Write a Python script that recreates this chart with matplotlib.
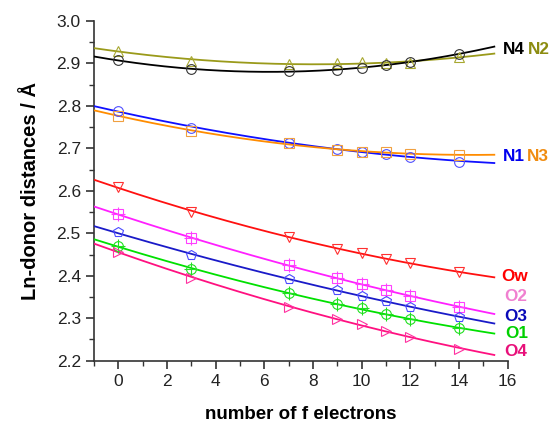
import numpy as np
import matplotlib.pyplot as plt
from matplotlib.ticker import MultipleLocator

# number of f electrons for each lanthanide
n_f = np.array([0, 3, 7, 9, 10, 11, 12, 14])

# Ln-donor distances (Angstrom)
N2 = [2.930, 2.906, 2.899, 2.900, 2.903, 2.902, 2.901, 2.915]
N4 = [2.907, 2.887, 2.882, 2.885, 2.890, 2.896, 2.903, 2.923]
N1 = [2.788, 2.749, 2.713, 2.698, 2.692, 2.687, 2.680, 2.669]
N3 = [2.777, 2.741, 2.712, 2.697, 2.692, 2.691, 2.687, 2.685]
Ow = [2.608, 2.551, 2.492, 2.464, 2.453, 2.439, 2.431, 2.408]
O2 = [2.545, 2.488, 2.425, 2.394, 2.380, 2.366, 2.352, 2.327]
O3 = [2.502, 2.448, 2.392, 2.366, 2.353, 2.341, 2.327, 2.302]
O1 = [2.470, 2.415, 2.359, 2.333, 2.323, 2.310, 2.298, 2.276]
O4 = [2.457, 2.395, 2.326, 2.298, 2.286, 2.270, 2.256, 2.228]

# name, values, line colour, marker colour, markers, label colour, label pos
series = [
    ('N2', N2, '#9a9a1a', '#a8a830', ['^'], '#8c8c10', (16.82, 2.934)),
    ('N4', N4, '#000000', '#333333', ['o'], '#000000', (15.8, 2.934)),
    ('N1', N1, '#1010ff', '#5050ff', ['o'], '#0000ee', (15.8, 2.680)),
    ('N3', N3, '#ff8c00', '#f0a040', ['s'], '#f08c10', (16.8, 2.680)),
    ('Ow', Ow, '#ff1010', '#ff3030', ['v'], '#ff0000', (15.75, 2.398)),
    ('O2', O2, '#ff20ff', '#ff40ff', ['s', '+'], '#f080d0', (15.85, 2.351)),
    ('O3', O3, '#1a1ac8', '#4a4aff', ['p'], '#0a0ab8', (15.85, 2.305)),
    ('O1', O1, '#00e000', '#20e020', ['o', '+'], '#00d000', (15.9, 2.264)),
    ('O4', O4, '#ff1080', '#ff30a0', ['>'], '#e8107a', (15.85, 2.221)),
]

fig = plt.figure(figsize=(5.51, 4.23), dpi=100)
ax = fig.add_axes([0.1706, 0.1473, 0.7508, 0.8031])

xfit = np.linspace(-1, 15.45, 200)
for name, vals, lc, mc, markers, tc, (tx, ty) in series:
    coef = np.polyfit(n_f, vals, 2)
    ax.plot(xfit, np.polyval(coef, xfit), color=lc, lw=1.3, zorder=3)
    for m in markers:
        ms = 9.5 if m == '+' else 7
        ax.plot(n_f, vals, ls='none', marker=m, ms=ms, mfc='none',
                mec=mc, mew=0.8, zorder=4)
    ax.text(tx, ty, name, color=tc, fontsize=12.3, fontweight='bold',
            family='Liberation Sans', ha='left', va='center', clip_on=False)

ax.set_xlim(-1, 16)
ax.set_ylim(2.2, 3.0)
ax.xaxis.set_major_locator(MultipleLocator(2))
ax.xaxis.set_minor_locator(MultipleLocator(1))
ax.yaxis.set_major_locator(MultipleLocator(0.1))
ax.yaxis.set_minor_locator(MultipleLocator(0.05))
ax.yaxis.set_major_formatter(plt.FormatStrFormatter('%.1f'))

for s in ['top', 'right']:
    ax.spines[s].set_visible(False)
for s in ['left', 'bottom']:
    ax.spines[s].set_linewidth(1.2)
    ax.spines[s].set_color('#333333')
ax.tick_params(which='major', direction='out', length=6, width=1.1,
               labelsize=12.5, colors='#222222')
ax.tick_params(which='minor', direction='out', length=3.5, width=1.0,
               colors='#333333')
for lab in ax.get_xticklabels() + ax.get_yticklabels():
    lab.set_family('Liberation Sans')

ax.set_xlabel('number of f electrons', fontsize=13.5, fontweight='bold',
              family='Liberation Sans', labelpad=12)
ax.set_ylabel('Ln-donor distances / Å', fontsize=14.5, fontweight='bold',
              family='Liberation Sans', labelpad=12)

fig.savefig('out.png', dpi=100)
